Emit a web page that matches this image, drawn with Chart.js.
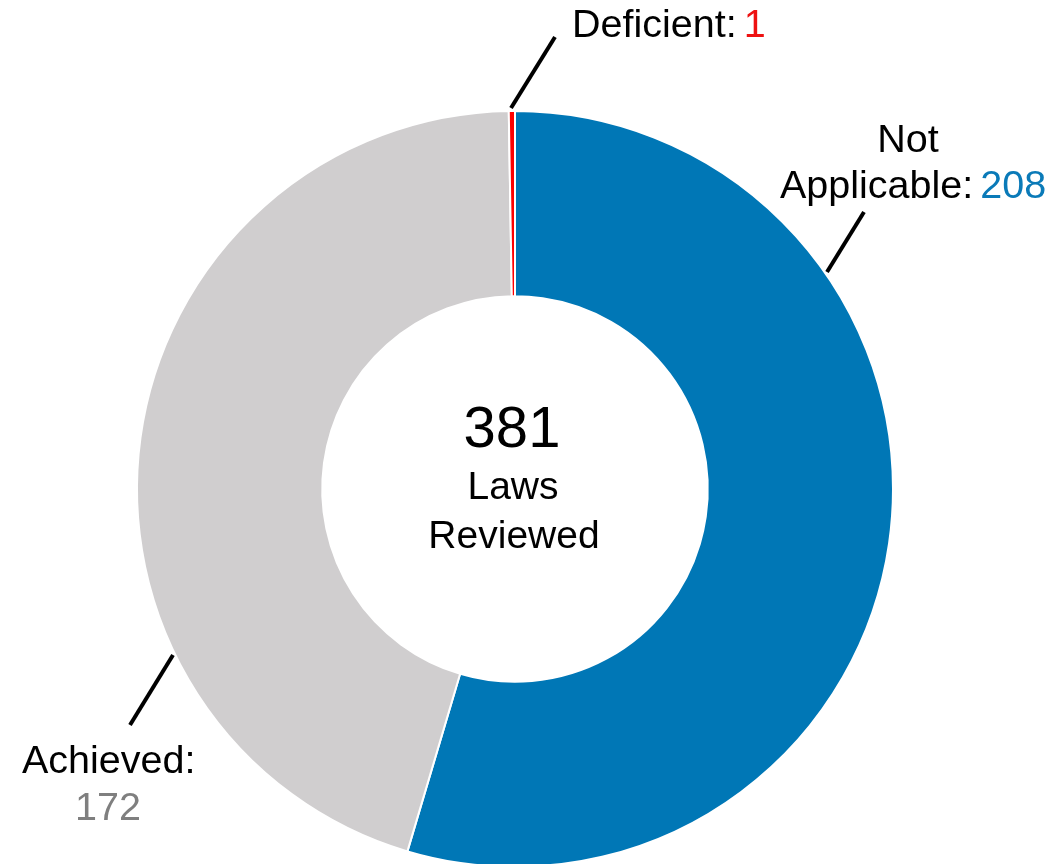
<!DOCTYPE html>
<html>
<head>
<meta charset="utf-8">
<script src="https://cdn.jsdelivr.net/npm/chart.js@4"></script>
<style>
  html, body { margin: 0; padding: 0; background: #fff; overflow: hidden; }
  #wrap { width: 1057px; height: 978px; position: relative; }
</style>
</head>
<body>
<div id="wrap"><canvas id="grafico"></canvas></div>
<script>
// datos
const categorias = ['Not Applicable', 'Achieved', 'Deficient'];
const valores = [208, 172, 1];
const colores = ['#0077b6', '#d0cecf', '#ff0000'];
const coloresValor = ['#0a7ab8', '#7f7f7f', '#ee1111'];
const centroTitulo = '381';
const centroTexto = ['Laws', 'Reviewed'];

// donde van las etiquetas, relativo al centro del anillo
const posEtiquetas = [
  { linea: [312, -217, 349, -277], filas: [
      { txt: 'Not', dx: 393, dy: -337, align: 'center' },
      { txt: 'Applicable:', dx: 265, dy: -291, align: 'left', valor: true }] },
  { linea: [-342, 166, -385, 236], filas: [
      { txt: 'Achieved:', dx: -493, dy: 284, align: 'left' },
      { valorSolo: true, dx: -407, dy: 331, align: 'center' }] },
  { linea: [-4, -381, 40, -452], filas: [
      { txt: 'Deficient:', dx: 57, dy: -452, align: 'left', valor: true }] }
];

const FUENTE = '"Liberation Sans", Arial, sans-serif';

const etiquetasPlugin = {
  id: 'etiquetas',
  afterDraw(chart) {
    const ctx = chart.ctx;
    const arco = chart.getDatasetMeta(0).data[0];
    const cx = arco.x, cy = arco.y;
    ctx.save();

    // texto del centro
    ctx.fillStyle = '#000';
    ctx.textAlign = 'center';
    ctx.textBaseline = 'alphabetic';
    ctx.font = '58px ' + FUENTE;
    ctx.fillText(centroTitulo, cx - 3, cy - 42);
    ctx.font = '39px ' + FUENTE;
    ctx.fillText(centroTexto[0], cx - 2, cy + 10);
    ctx.fillText(centroTexto[1], cx - 1, cy + 59);

    posEtiquetas.forEach((p, i) => {
      ctx.strokeStyle = '#000';
      ctx.lineWidth = 4;
      ctx.beginPath();
      ctx.moveTo(cx + p.linea[0], cy + p.linea[1]);
      ctx.lineTo(cx + p.linea[2], cy + p.linea[3]);
      ctx.stroke();

      ctx.font = '39.5px ' + FUENTE;
      p.filas.forEach(f => {
        const x = cx + f.dx, y = cy + f.dy;
        if (f.valorSolo) {
          ctx.textAlign = 'center';
          ctx.fillStyle = coloresValor[i];
          ctx.fillText(String(valores[i]), x, y);
          return;
        }
        ctx.textAlign = f.align;
        ctx.fillStyle = '#000';
        ctx.fillText(f.txt, x, y);
        if (f.valor) {
          const w = ctx.measureText(f.txt).width;
          ctx.textAlign = 'left';
          ctx.fillStyle = coloresValor[i];
          ctx.fillText(String(valores[i]), x + w + 7, y);
        }
      });
    });
    ctx.restore();
  }
};

const ctx = document.getElementById('grafico').getContext('2d');
const grafico = new Chart(ctx, {
  type: 'doughnut',
  data: {
    labels: categorias,
    datasets: [{
      data: valores,
      backgroundColor: colores,
      borderColor: '#ffffff',
      borderWidth: 2
    }]
  },
  options: {
    responsive: true,
    maintainAspectRatio: false,
    animation: false,
    radius: 378,
    cutout: '51%',
    layout: { padding: { left: 0, right: 27, top: 0, bottom: 0 } },
    plugins: {
      legend: { display: false },
      tooltip: { enabled: false }
    }
  },
  plugins: [etiquetasPlugin]
});
</script>
</body>
</html>
